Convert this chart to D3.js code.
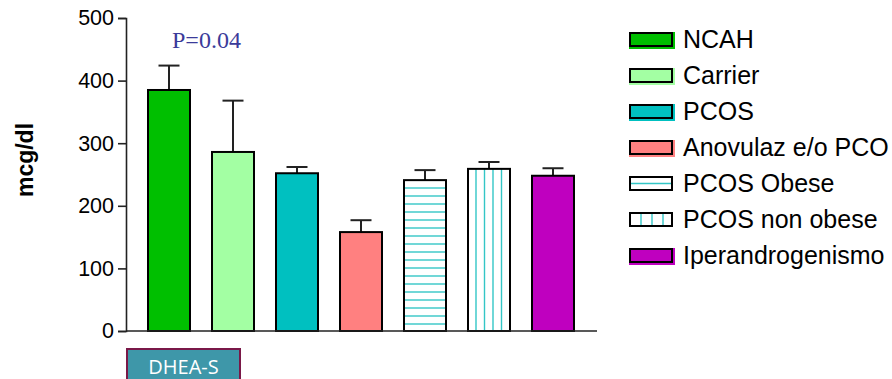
<!DOCTYPE html>
<html>
<head>
<meta charset="utf-8">
<script src="https://cdn.jsdelivr.net/npm/d3@7"></script>
<style>
  html, body { margin: 0; padding: 0; background: #fff; }
  svg { display: block; }
</style>
</head>
<body>
<svg id="chart" width="892" height="379"></svg>
<script>
const categories = ["NCAH", "Carrier", "PCOS", "Anovulaz e/o PCO", "PCOS Obese", "PCOS non obese", "Iperandrogenismo"];
const means = [385, 286, 252, 158, 241, 259, 248];
const errors = [39, 82, 10, 19, 16, 11, 12];
const yTicks = [0, 100, 200, 300, 400, 500];
const fills = ["#00bf00", "#a3ffa3", "#00c0c0", "#ff8080", "pattern-h", "pattern-v", "#bf00bf"];
const yLabel = "mcg/dl";
const pLabel = "P=0.04";
const groupLabel = "DHEA-S";

const svg = d3.select("#chart");
const hatch = "#33c6c6";

const defs = svg.append("defs");
const ph = defs.append("pattern").attr("id", "pattern-h")
  .attr("patternUnits", "userSpaceOnUse").attr("width", 8).attr("height", 8)
  .attr("y", 3);
ph.append("rect").attr("width", 8).attr("height", 8).attr("fill", "#fff");
ph.append("line").attr("x1", 0).attr("x2", 8).attr("y1", 1).attr("y2", 1)
  .attr("stroke", hatch).attr("stroke-width", 1.4);

const x = d3.scaleBand().domain(categories).range([137, 585])
  .paddingInner(22 / 64).paddingOuter(11 / 64);
const y = d3.scaleLinear().domain([0, 500]).range([331, 18]);

function fillFor(i) {
  const f = fills[i];
  if (f === "pattern-h") return "url(#pattern-h)";
  if (f === "pattern-v") return "#fff";
  return f;
}

const g = svg.append("g");

categories.forEach((c, i) => {
  const x0 = x(c), w = x.bandwidth();
  const yt = y(means[i]);
  const yb = y(0);
  g.append("line").attr("x1", x0 + w / 2).attr("x2", x0 + w / 2)
    .attr("y1", yt).attr("y2", y(means[i] + errors[i]))
    .attr("stroke", "#222").attr("stroke-width", 2);
  g.append("line").attr("x1", x0 + w / 2 - 10.5).attr("x2", x0 + w / 2 + 10.5)
    .attr("y1", y(means[i] + errors[i])).attr("y2", y(means[i] + errors[i]))
    .attr("stroke", "#222").attr("stroke-width", 2);
  g.append("rect").attr("x", x0).attr("y", yt).attr("width", w).attr("height", yb - yt)
    .attr("fill", fillFor(i));
  if (fills[i] === "pattern-v") {
    [8, 16.5, 25, 33.5].forEach(off => {
      g.append("line").attr("x1", x0 + off).attr("x2", x0 + off)
        .attr("y1", yt).attr("y2", yb).attr("stroke", hatch).attr("stroke-width", 1.4);
    });
  }
  g.append("rect").attr("x", x0).attr("y", yt).attr("width", w).attr("height", yb - yt)
    .attr("fill", "none").attr("stroke", "#000").attr("stroke-width", 2);
});

const yAxis = d3.axisLeft(y).tickValues(yTicks).tickSize(8).tickPadding(4).tickFormat(d3.format("d"));
const ya = svg.append("g").attr("transform", "translate(126,0)").call(yAxis);
ya.select(".domain").attr("stroke", "#222").attr("stroke-width", 1.6);
ya.selectAll(".tick line").attr("stroke", "#222").attr("stroke-width", 1.6);
ya.selectAll(".tick text").attr("font-family", "Liberation Sans, Arial, sans-serif")
  .attr("font-size", 21.5).attr("fill", "#000");

svg.append("line").attr("x1", 126).attr("x2", 597).attr("y1", y(0)).attr("y2", y(0))
  .attr("stroke", "#222").attr("stroke-width", 1.6);

svg.append("text").attr("transform", "translate(33,160) rotate(-90)")
  .attr("text-anchor", "middle").attr("font-family", "Liberation Sans, Arial, sans-serif")
  .attr("font-weight", "bold").attr("font-size", 23).attr("fill", "#000").text(yLabel);

svg.append("text").attr("x", 172).attr("y", 48)
  .attr("font-family", "Liberation Serif, Times New Roman, serif")
  .attr("font-size", 24).attr("fill", "#3b3b9a").text(pLabel);

svg.append("rect").attr("x", 127).attr("y", 349).attr("width", 113).attr("height", 40)
  .attr("fill", "#3e97a9").attr("stroke", "#7a1848").attr("stroke-width", 2);
svg.append("text").attr("x", 183.5).attr("y", 373.5).attr("text-anchor", "middle")
  .attr("font-family", "Open Sans, sans-serif").attr("font-size", 20).attr("fill", "#fff")
  .text(groupLabel);

const leg = svg.append("g");
categories.forEach((c, i) => {
  const cy = 39 + i * 36;
  const lx = 629;
  const row = leg.append("g");
  const f = fills[i];
  if (f !== "pattern-h" && f !== "pattern-v") {
    row.append("rect").attr("x", lx).attr("y", cy - 7).attr("width", 46).attr("height", 17).attr("fill", f);
    row.append("rect").attr("x", lx + 1).attr("y", cy - 6).attr("width", 42).attr("height", 13)
      .attr("fill", f).attr("stroke", "#000").attr("stroke-width", 2);
  } else {
    row.append("rect").attr("x", lx + 1).attr("y", cy - 6).attr("width", 42).attr("height", 13)
      .attr("fill", "#fff");
    if (f === "pattern-h") {
      row.append("line").attr("x1", lx + 1).attr("x2", lx + 43).attr("y1", cy + 0.5).attr("y2", cy + 0.5)
        .attr("stroke", hatch).attr("stroke-width", 1.4);
    } else {
      [11, 22, 33].forEach(off => {
        row.append("line").attr("x1", lx + 1 + off).attr("x2", lx + 1 + off)
          .attr("y1", cy - 6).attr("y2", cy + 7).attr("stroke", hatch).attr("stroke-width", 1.4);
      });
    }
    row.append("rect").attr("x", lx + 1).attr("y", cy - 6).attr("width", 42).attr("height", 13)
      .attr("fill", "none").attr("stroke", "#000").attr("stroke-width", 2);
  }
  row.append("text").attr("x", 683).attr("y", cy + 8.5)
    .attr("font-family", "Liberation Sans, Arial, sans-serif").attr("font-size", 25)
    .attr("fill", "#000").text(c);
});
</script>
</body>
</html>
